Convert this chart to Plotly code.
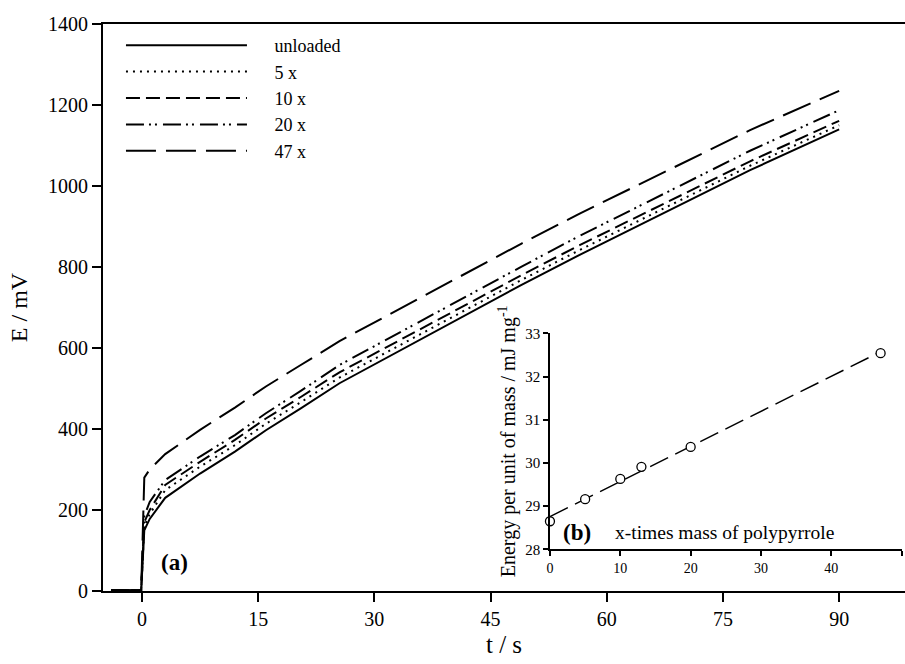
import numpy as np
import plotly.graph_objects as go

# ---- galvanostatic charging curves, potential E (mV) against time t (s) ----
t_s = [-4, -0.1, 0.3, 1, 3, 7.5, 12, 16, 20.5, 25.5, 49, 56.5, 78.5, 90]

e_unloaded = [2, 2, 150, 178, 230, 290, 344, 397, 451, 513, 756, 830, 1039, 1140]
e_5x = [2, 2, 160, 190, 249, 307, 360, 413, 466, 527, 768, 842, 1050, 1150]
e_10x = [2, 2, 170, 200, 262, 319, 373, 426, 479, 540, 780, 854, 1061, 1161]
e_20x = [2, 2, 185, 220, 274, 332, 385, 439, 494, 558, 801, 877, 1087, 1187]
e_47x = [2, 2, 280, 300, 338, 398, 453, 505, 558, 617, 858, 932, 1138, 1235]

series_names = ["unloaded", "5 x", "10 x", "20 x", "47 x"]
series_values = [e_unloaded, e_5x, e_10x, e_20x, e_47x]
series_dash = ["solid", "2px,5px", "14px,6px", "18px,5px,2px,4px,2px,6px", "30px,10px"]

# ---- inset: energy per unit mass against polypyrrole mass multiple ----
mass_multiple = [0, 5, 10, 13, 20, 47]
energy_per_mass = [28.65, 29.16, 29.63, 29.91, 30.37, 32.54]

x_ticks_main = [0, 15, 30, 45, 60, 75, 90]
y_ticks_main = [0, 200, 400, 600, 800, 1000, 1200, 1400]
x_ticks_inset = [0, 10, 20, 30, 40, 50]
y_ticks_inset = [28, 29, 30, 31, 32, 33]

SERIF = "Liberation Serif, Times New Roman, serif"
PAD = "\u00a0" * 5  # gap between legend line sample and its label

fig = go.Figure()

for name, vals, dash in zip(series_names, series_values, series_dash):
    fig.add_trace(go.Scatter(
        x=t_s, y=vals, mode="lines", name=PAD + name,
        line=dict(color="black", width=2, dash=dash),
        xaxis="x", yaxis="y",
    ))

# linear fit through the inset points
slope, intercept = np.polyfit(mass_multiple, energy_per_mass, 1)
fit_x = [min(mass_multiple), max(mass_multiple)]
fit_y = [intercept + slope * v for v in fit_x]
fig.add_trace(go.Scatter(
    x=fit_x, y=fit_y, mode="lines", showlegend=False,
    line=dict(color="black", width=1.5, dash="20px,8px"),
    xaxis="x2", yaxis="y2",
))
fig.add_trace(go.Scatter(
    x=mass_multiple, y=energy_per_mass, mode="markers", showlegend=False,
    marker=dict(symbol="circle", size=9, color="white",
                line=dict(color="black", width=1.3)),
    xaxis="x2", yaxis="y2", cliponaxis=False,
))

fig.update_layout(
    width=905, height=664,
    margin=dict(l=103, r=0, t=24, b=73),
    paper_bgcolor="white", plot_bgcolor="white",
    font=dict(family=SERIF, color="black", size=20),
    showlegend=True,
    legend=dict(
        x=0.0224, y=0.9947, xanchor="left", yanchor="top",
        xref="paper", yref="paper",
        bgcolor="rgba(0,0,0,0)", borderwidth=0,
        itemwidth=121,
        font=dict(family=SERIF, size=18, color="black"),
        tracegroupgap=0,
    ),
    xaxis=dict(
        domain=[0, 1], range=[-5.03, 98.5],
        tickmode="array", tickvals=x_ticks_main,
        ticks="outside", ticklen=9, tickwidth=2, tickcolor="black",
        showline=True, linecolor="black", linewidth=2, mirror=True,
        showgrid=False, zeroline=False,
        tickfont=dict(size=20),
        title=dict(text="t / s", font=dict(size=25), standoff=6),
    ),
    yaxis=dict(
        domain=[0, 1], range=[0, 1400],
        tickmode="array", tickvals=y_ticks_main,
        ticks="outside", ticklen=9, tickwidth=2, tickcolor="black",
        showline=True, linecolor="black", linewidth=2,
        showgrid=False, zeroline=False,
        tickfont=dict(size=20),
        title=dict(text="E / mV", font=dict(size=24), standoff=14),
    ),
    xaxis2=dict(
        domain=[0.5573, 0.9959], range=[0, 50], anchor="y2",
        tickmode="array", tickvals=x_ticks_inset,
        ticks="outside", ticklen=5, tickwidth=1.5, tickcolor="black",
        showline=True, linecolor="black", linewidth=1.5,
        showgrid=False, zeroline=False,
        tickfont=dict(size=14),
    ),
    yaxis2=dict(
        domain=[0.0735, 0.4545], range=[28, 33], anchor="x2",
        tickmode="array", tickvals=y_ticks_inset,
        ticks="outside", ticklen=5, tickwidth=1.5, tickcolor="black",
        showline=True, linecolor="black", linewidth=1.5,
        showgrid=False, zeroline=False,
        tickfont=dict(size=15),
        title=dict(text="Energy per unit of mass / mJ mg<sup>-1</sup>",
                   font=dict(size=20), standoff=4),
    ),
    annotations=[
        dict(text="<b>(a)</b>", x=4.2, y=70, xref="x", yref="y",
             showarrow=False, font=dict(size=23)),
        dict(text="<b>(b)</b>", x=3.8, y=28.4, xref="x2", yref="y2",
             showarrow=False, font=dict(size=23)),
        dict(text="x-times mass of polypyrrole", x=9, y=28.4, xref="x2", yref="y2",
             xanchor="left", showarrow=False, font=dict(size=19.5)),
    ],
)

fig.write_html("out.html")
